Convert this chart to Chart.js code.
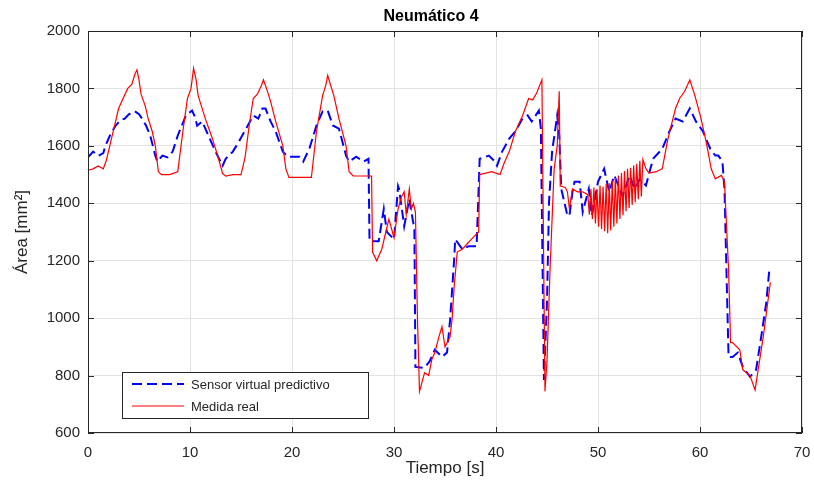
<!DOCTYPE html>
<html>
<head>
<meta charset="utf-8">
<script src="https://cdn.jsdelivr.net/npm/chart.js@4"></script>
<style>
  html, body { margin: 0; padding: 0; background: #fff; }
  #wrap { width: 814px; height: 490px; }
</style>
</head>
<body>
<div id="wrap"><canvas id="tyreChart" width="814" height="490"></canvas></div>
<script>
// Medida real (red, solid)
const realTime = [0, 0.5, 1.0, 1.5, 1.8, 2.4, 3.0, 3.5, 3.9, 4.3, 4.6, 4.8, 5.0, 5.2, 5.6, 5.9, 6.3, 6.6, 6.9, 7.2, 8.0, 8.8,
  9.3, 9.75, 10.1, 10.35, 10.6, 10.8, 11.5, 12.2, 12.8, 13.2, 13.5, 14.2, 15.0, 15.4, 15.8, 16.2, 16.6, 17.0, 17.2, 17.5,
  17.9, 18.4, 19.1, 19.4, 19.7, 20.5, 21.9, 22.4, 23.0, 23.3, 23.5, 23.8, 24.1, 24.6, 25.3, 25.6, 26.0, 27.0, 27.8, 27.9,
  28.3, 28.8, 29.2, 29.5, 30.0, 30.4, 30.7, 31.0, 31.2, 31.5, 31.7, 31.9, 32.1, 32.3, 32.5, 33.0, 33.4, 33.7, 34.0, 34.4,
  34.7, 35.0, 35.5, 35.7, 35.9, 36.2, 36.7, 37.2, 37.6, 38.3, 38.4, 39.0, 39.6, 40.0, 40.4, 40.8, 41.3, 41.9, 42.6, 43.2,
  43.6, 44.0, 44.5, 44.8, 45.0, 45.3, 45.7, 46.0, 46.2, 46.3, 46.8, 47.0, 47.2, 47.5, 48.0, 48.5, 49.0,
  49.15, 49.3, 49.45, 49.6, 49.75, 49.9, 50.05, 50.2, 50.35, 50.5, 50.65, 50.8, 50.95, 51.1, 51.25, 51.4, 51.55, 51.7,
  51.85, 52.0, 52.15, 52.3, 52.45, 52.6, 52.75, 52.9, 53.05, 53.2, 53.35, 53.5, 53.65, 53.8, 53.95, 54.1, 54.25, 54.4,
  54.7, 55.0, 55.7, 56.3, 56.8, 57.1, 57.6, 58.0, 58.5, 59.0, 59.5, 60.1, 60.6,
  61.1, 61.5, 62.1, 62.4, 62.8, 63.0, 63.2, 63.9, 64.2, 64.9, 65.4, 65.7, 66.2, 66.9];
const realArea = [1515, 1520, 1530, 1520, 1550, 1640, 1730, 1770, 1800, 1815, 1850, 1865, 1830, 1780, 1740, 1695, 1650, 1600, 1510, 1500, 1500, 1510,
  1650, 1765, 1800, 1870, 1830, 1775, 1695, 1625, 1555, 1503, 1495, 1500, 1500, 1560, 1670, 1765, 1780, 1810, 1830, 1800,
  1755, 1685, 1600, 1520, 1490, 1490, 1490, 1650, 1775, 1810, 1845, 1810, 1775, 1695, 1600, 1510, 1495, 1495, 1495, 1230,
  1200, 1240, 1300, 1345, 1280, 1380, 1420, 1440, 1360, 1450, 1380, 1400, 1370, 1000, 745, 810, 800, 855, 880, 935,
  970, 900, 935, 1000, 1110, 1230, 1240, 1260, 1275, 1300, 1500, 1505, 1510, 1505, 1500, 1540, 1580, 1650, 1705, 1765,
  1760, 1785, 1830, 745, 850, 1170, 1520, 1600, 1790, 1460, 1455, 1440, 1380, 1450, 1440, 1440, 1430,
  1360, 1450, 1345, 1455, 1330, 1450, 1318, 1462, 1310, 1458, 1303, 1468, 1296, 1470, 1305, 1478, 1318, 1488,
  1330, 1497, 1345, 1505, 1358, 1512, 1372, 1520, 1384, 1524, 1394, 1532, 1404, 1538, 1414, 1548, 1424, 1552,
  1520, 1505, 1510, 1520, 1615, 1660, 1730, 1765, 1790, 1830, 1775, 1695, 1615,
  1520, 1485, 1497, 1475, 1170, 915, 915, 890, 820, 800, 750, 820, 935, 1125];

// Sensor virtual predictivo (blue, dashed)
const predTime = [0, 0.5, 1.0, 1.5, 1.7, 2.2, 2.7, 3.2, 3.6, 4.0, 4.6, 5.0, 5.3, 5.7, 6.1, 6.6, 6.8, 7.3, 7.8, 8.3, 8.8, 9.6,
  10.2, 10.5, 10.7, 11.2, 11.8, 12.5, 13.2, 13.5, 14.2, 14.8, 15.5, 16.2, 16.7, 17.1, 17.4, 17.9, 18.4, 19.1, 19.6, 20.7,
  21.1, 21.7, 22.4, 23.0, 23.5, 24.0, 24.6, 25.3, 25.6, 26.3, 27.0, 27.5, 27.6, 28.5, 29.0, 29.3, 30.0, 30.4, 30.5, 31.0,
  31.5, 31.7, 32.0, 32.1, 33.0, 33.5, 34.0, 34.7, 35.2, 35.5, 35.9, 36.0, 36.7, 37.3, 38.1, 38.4, 39.3, 39.9, 40.1, 40.6,
  41.3, 41.9, 42.6, 43.1, 43.5, 44.2, 44.4, 44.7, 45.0, 45.2, 45.5, 46.0, 46.2, 46.4, 47.0, 47.2, 47.5, 47.7, 48.2, 48.5,
  49.1, 49.4, 50.0, 50.6, 51.1, 51.6, 52.4, 53.1, 53.6, 54.1, 54.7, 55.4, 56.3, 57.0, 57.6, 58.3, 59.0, 59.6, 60.3, 61.0,
  61.5, 61.8, 62.2, 62.4, 62.8, 63.2, 63.7, 64.2, 64.9, 65.5, 66.0, 66.5, 66.8];
const predArea = [1560, 1580, 1565, 1575, 1600, 1640, 1670, 1690, 1695, 1710, 1720, 1710, 1695, 1670, 1636, 1566, 1545, 1566, 1560, 1580, 1636, 1706,
  1723, 1700, 1670, 1685, 1636, 1580, 1531, 1555, 1580, 1615, 1660, 1706, 1695, 1730, 1730, 1685, 1650, 1580, 1562, 1562,
  1545, 1590, 1671, 1720, 1723, 1671, 1660, 1566, 1545, 1562, 1545, 1555, 1268, 1268, 1380, 1300, 1275, 1460, 1450, 1320,
  1415, 1370, 1310, 830, 827, 850, 890, 865, 880, 995, 1205, 1275, 1240, 1250, 1250, 1555, 1566, 1545, 1531, 1580,
  1625, 1650, 1695, 1706, 1685, 1723, 1660, 785, 1055, 1405, 1580, 1706, 1636, 1450, 1357, 1357, 1440, 1475, 1475, 1370,
  1450, 1357, 1475, 1520, 1440, 1497, 1425, 1497, 1450, 1485, 1462, 1555, 1590, 1650, 1695, 1685, 1730, 1685, 1650, 1590,
  1566, 1566, 1545, 1450, 865, 865, 880, 830, 796, 820, 935, 1055, 1170];

const xTicks = [0, 10, 20, 30, 40, 50, 60, 70];
const yTicks = [600, 800, 1000, 1200, 1400, 1600, 1800, 2000];

const chartTitle = 'Neumático 4';
const seriesNames = ['Sensor virtual predictivo', 'Medida real'];

const FONT = '"Liberation Sans", Arial, Helvetica, sans-serif';
const INK = '#262626';

function toPoints(xs, ys) {
  return xs.map((x, i) => ({ x: x, y: ys[i] }));
}

// box round the axes with small inward ticks, like MATLAB, plus the title
const boxPlugin = {
  id: 'boxPlugin',
  afterDraw(chart) {
    const { ctx, chartArea: a, scales } = chart;
    ctx.save();
    ctx.strokeStyle = INK;
    ctx.lineWidth = 1;
    ctx.strokeRect(a.left + 0.5, a.top + 0.5, a.right - a.left - 1, a.bottom - a.top - 1);
    ctx.beginPath();
    xTicks.forEach(v => {
      const px = Math.round(scales.x.getPixelForValue(v)) + 0.5;
      ctx.moveTo(px, a.bottom); ctx.lineTo(px, a.bottom - 6);
      ctx.moveTo(px, a.top); ctx.lineTo(px, a.top + 6);
    });
    yTicks.forEach(v => {
      const py = Math.round(scales.y.getPixelForValue(v)) + 0.5;
      ctx.moveTo(a.left, py); ctx.lineTo(a.left + 6, py);
      ctx.moveTo(a.right, py); ctx.lineTo(a.right - 6, py);
    });
    ctx.stroke();

    // title sits a little left of the axes centre in the original
    ctx.fillStyle = '#000';
    ctx.font = 'bold 16px ' + FONT;
    ctx.textAlign = 'center';
    ctx.textBaseline = 'middle';
    ctx.fillText(chartTitle, (a.left + a.right) / 2 - 14, 17);
    ctx.restore();
  }
};

// legend drawn inside the plot, lower left
const insideLegend = {
  id: 'insideLegend',
  afterDatasetsDraw(chart) {
    const { ctx, chartArea: a } = chart;
    const bx = a.left + 34, by = a.bottom - 61, bw = 246, bh = 46;
    ctx.save();
    ctx.fillStyle = '#fff';
    ctx.fillRect(bx, by, bw, bh);
    ctx.strokeStyle = INK;
    ctx.lineWidth = 1;
    ctx.strokeRect(bx + 0.5, by + 0.5, bw, bh);
    chart.data.datasets.forEach((ds, i) => {
      const y = by + 12 + i * 22;
      ctx.strokeStyle = ds.borderColor;
      ctx.lineWidth = ds.borderWidth;
      ctx.setLineDash(ds.borderDash || []);
      ctx.beginPath();
      ctx.moveTo(bx + 10, y);
      ctx.lineTo(bx + 62, y);
      ctx.stroke();
      ctx.setLineDash([]);
      ctx.fillStyle = INK;
      ctx.font = '13px ' + FONT;
      ctx.textBaseline = 'middle';
      ctx.fillText(ds.label, bx + 69, y + 1);
    });
    ctx.restore();
  }
};

const ctx = document.getElementById('tyreChart').getContext('2d');
const tyreChart = new Chart(ctx, {
  type: 'line',
  data: {
    datasets: [
      {
        label: seriesNames[0],
        data: toPoints(predTime, predArea),
        borderColor: '#0000ff',
        borderWidth: 2,
        borderDash: [10, 5],
        pointRadius: 0,
        fill: false,
        tension: 0,
        order: 2
      },
      {
        label: seriesNames[1],
        data: toPoints(realTime, realArea),
        borderColor: '#ff0000',
        borderWidth: 1.2,
        pointRadius: 0,
        fill: false,
        tension: 0,
        order: 1
      }
    ]
  },
  options: {
    responsive: false,
    animation: false,
    layout: { padding: { left: 0, right: 12, top: 31, bottom: 0 } },
    plugins: {
      legend: { display: false },
      tooltip: { enabled: false },
      title: { display: false }
    },
    scales: {
      x: {
        type: 'linear',
        min: 0,
        max: 70,
        afterFit: s => { s.height = 57; s.paddingLeft = 0; s.paddingRight = 0; },
        afterBuildTicks: s => { s.ticks = xTicks.map(v => ({ value: v })); },
        grid: { color: '#e3e3e3', drawTicks: false },
        border: { display: false },
        ticks: { color: INK, padding: 11, font: { family: FONT, size: 15 }, callback: v => String(v) },
        title: {
          display: true,
          text: 'Tiempo [s]',
          color: INK,
          font: { family: FONT, size: 17 },
          padding: { top: 0, bottom: 11 }
        }
      },
      y: {
        min: 600,
        max: 2000,
        afterFit: s => { s.width = 88; s.paddingTop = 0; s.paddingBottom = 0; },
        afterBuildTicks: s => { s.ticks = yTicks.map(v => ({ value: v })); },
        grid: { color: '#e3e3e3', drawTicks: false },
        border: { display: false },
        ticks: { color: INK, padding: 8, font: { family: FONT, size: 15 }, callback: v => String(v) },
        title: {
          display: true,
          text: 'Área [mm²]',
          color: INK,
          font: { family: FONT, size: 17 },
          padding: { top: 12, bottom: 0 }
        }
      }
    }
  },
  plugins: [boxPlugin, insideLegend]
});
</script>
</body>
</html>
